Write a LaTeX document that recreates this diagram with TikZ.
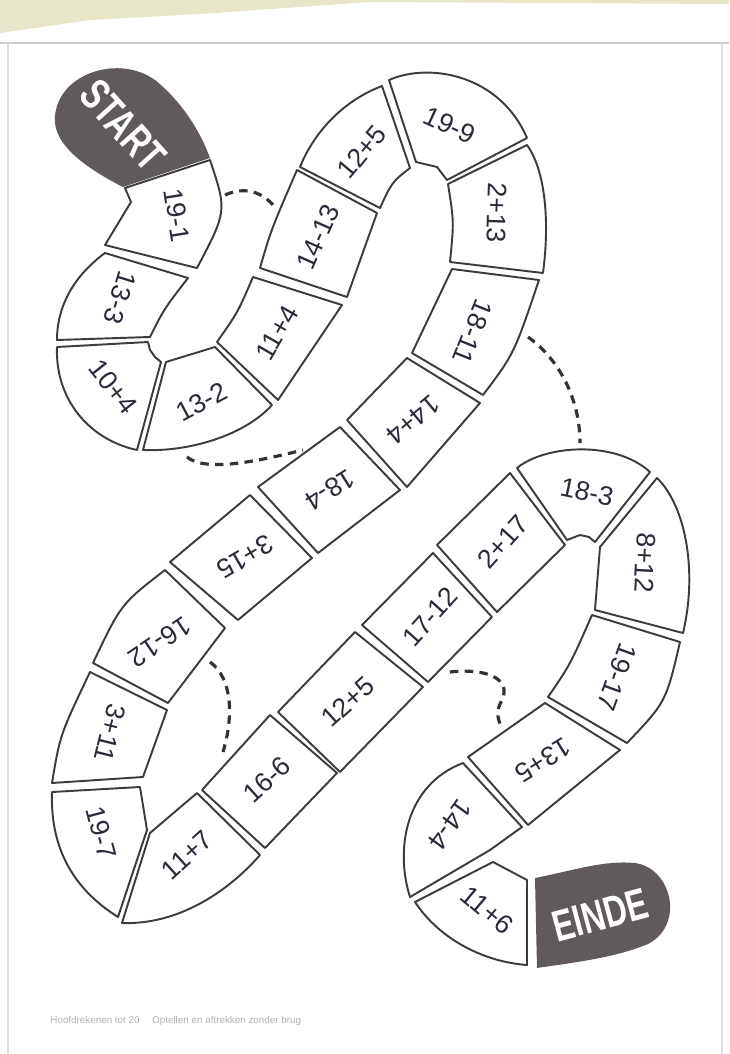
\documentclass[tikz,border=0pt]{standalone}
\usepackage{fontspec}
\setmainfont{Liberation Sans}
\newfontfamily\bordfont[FakeStretch=0.72]{Liberation Sans}
\definecolor{blob}{RGB}{96,90,90}
\definecolor{ink}{RGB}{40,44,58}
\definecolor{rand}{RGB}{60,60,60}
\definecolor{papier}{RGB}{232,230,200}

\begin{document}
\begin{tikzpicture}[x=0.01cm, y=-0.01cm,
  vak/.style={draw=rand, line width=0.55pt, fill=white, line join=round},
  eind/.style={fill=blob},
  som/.style={text=ink, font=\fontsize{7.6}{8}\selectfont, inner sep=0pt},
  woord/.style={text=white, font=\bordfont\bfseries\fontsize{12.5}{13}\selectfont, inner sep=0pt},
  shortcut/.style={draw=black!80, line width=0.9pt, dash pattern=on 2.4pt off 1.8pt}]
  \useasboundingbox (0,0) rectangle (729,1054);
  \fill[white] (0,0) rectangle (729,1054);
  \fill[papier] (0,0) -- (729,0) -- (729,4) -- (370,2) -- (200,14) -- (90,20) -- (0,33) -- cycle;
  \draw[black!20, line width=0.6pt] (0,43) -- (729,43);
  \draw[black!12, line width=0.5pt] (8,43) -- (8,1054);
  \draw[black!12, line width=0.5pt] (722,43) -- (722,1054);

  \path[eind] (123,187) .. controls (80,165) and (48,140) .. (56,110)
    .. controls (64,72) and (120,55) .. (155,80)
    .. controls (180,100) and (200,130) .. (210,158) -- cycle;
  \node[woord, rotate=-48] (start) at (123,125) {START};

  \draw[vak] (125,188) -- (131,202) -- (105,245) -- (197,268) .. controls (227,211) .. (210,160) -- cycle;
  \draw[vak] (105,253) -- (188,278) .. controls (164,309) .. (150,337) -- (57,340) .. controls (57,305) and (75,275) .. (105,253) -- cycle;
  \draw[vak] (57,347) -- (148,342) -- (150,350) -- (155,357) -- (161,362) -- (137,450) .. controls (90,440) and (55,400) .. (57,347) -- cycle;
  \draw[vak] (166,362) -- (215,347) -- (272,405) .. controls (245,435) and (190,452) .. (143,450) -- cycle;
  \draw[vak] (217,342) .. controls (238,312) .. (253,277) -- (342,305) -- (278,400) -- cycle;
  \draw[vak] (260,268) .. controls (271,230) .. (297,170) -- (377,213) -- (347,297) -- cycle;
  \draw[vak] (300,167) .. controls (315,130) and (345,100) .. (382,86) -- (410,168) .. controls (392,182) .. (380,208) -- cycle;
  \draw[vak] (389,80) .. controls (430,62) and (500,75) .. (527,138) -- (447,180) -- (437,167) -- (416,162) -- cycle;
  \draw[vak] (448,184) -- (527,145) .. controls (545,170) and (550,220) .. (543,273) -- (450,262) .. controls (454,222) .. (448,184) -- cycle;
  \draw[vak] (452,269) -- (539,280) .. controls (514,354) .. (483,395) -- (412,353) -- cycle;
  \draw[vak] (347,420) -- (407,358) -- (480,403) -- (407,487) -- cycle;
  \draw[vak] (258,487) -- (340,427) -- (400,490) -- (318,553) -- cycle;
  \draw[vak] (170,562) -- (250,495) -- (312,558) -- (238,620) -- cycle;
  \draw[vak] (93,663) .. controls (121,604) .. (165,570) -- (225,628) -- (168,703) -- cycle;
  \draw[vak] (90,672) -- (167,710) -- (143,777) -- (52,783) .. controls (60,735) .. (90,672) -- cycle;
  \draw[vak] (52,792) -- (140,787) -- (147,830) -- (118,917) .. controls (75,890) and (50,850) .. (52,792) -- cycle;
  \draw[vak] (150,833) -- (197,793) -- (260,855) .. controls (225,895) and (175,925) .. (122,923) -- cycle;
  \draw[vak] (202,790) -- (270,715) -- (337,773) -- (265,848) -- cycle;
  \draw[vak] (278,712) -- (355,632) -- (423,687) -- (340,772) -- cycle;
  \draw[vak] (362,625) -- (433,553) -- (492,617) -- (428,682) -- cycle;
  \draw[vak] (437,545) -- (510,473) -- (565,545) -- (497,612) -- cycle;
  \draw[vak] (517,468) .. controls (545,445) and (615,440) .. (650,472) -- (595,542) -- (589,537) -- (580,535) -- (567,540) -- cycle;
  \draw[vak] (600,547) -- (657,478) .. controls (685,505) and (698,570) .. (683,633) -- (595,610) -- cycle;
  \draw[vak] (592,615) -- (680,642) .. controls (666,702) .. (627,743) -- (548,697) .. controls (570,665) .. (592,615) -- cycle;
  \draw[vak] (468,757) -- (545,703) -- (620,750) -- (528,825) -- cycle;
  \draw[vak] (463,763) -- (522,827) -- (490,850) -- (410,897) .. controls (395,850) and (405,785) .. (463,763) -- cycle;
  \draw[vak] (415,902) -- (493,862) -- (527,880) -- (527,965) .. controls (485,962) and (440,940) .. (415,902) -- cycle;

  \path[eind] (535,878) .. controls (575,870) and (605,860) .. (635,863)
    .. controls (672,868) and (685,925) .. (648,944)
    .. controls (615,958) and (570,963) .. (537,968) -- cycle;
  \node[woord, rotate=15] (einde) at (600,915) {EINDE};

  \node[som, rotate=-81] (vak1) at (177,215) {19-1};
  \node[som, rotate=-107] (vak2) at (120,298) {13-3};
  \node[som, rotate=-52] (vak3) at (113,387) {10+4};
  \node[som, rotate=28] (vak4) at (202,402) {13-2};
  \node[som, rotate=60] (vak5) at (277,333) {11+4};
  \node[som, rotate=66] (vak6) at (318,237) {14-13};
  \node[som, rotate=50] (vak7) at (362,152) {12+5};
  \node[som, rotate=-25] (vak8) at (450,125) {19-9};
  \node[som, rotate=-92] (vak9) at (497,213) {2+13};
  \node[som, rotate=-112] (vak10) at (473,332) {18-11};
  \node[som, rotate=-140] (vak11) at (413,420) {14+4};
  \node[som, rotate=-148] (vak12) at (330,490) {18-4};
  \node[som, rotate=-150] (vak13) at (245,557) {3+15};
  \node[som, rotate=-146] (vak14) at (160,642) {16-12};
  \node[som, rotate=-104] (vak15) at (110,733) {3+11};
  \node[som, rotate=-75] (vak16) at (101,833) {19-7};
  \node[som, rotate=42] (vak17) at (187,855) {11+7};
  \node[som, rotate=42] (vak18) at (267,780) {16-6};
  \node[som, rotate=42] (vak19) at (348,702) {12+5};
  \node[som, rotate=48] (vak20) at (430,617) {17-12};
  \node[som, rotate=48] (vak21) at (503,542) {2+17};
  \node[som, rotate=-12] (vak22) at (587,492) {18-3};
  \node[som, rotate=-93] (vak23) at (645,563) {8+12};
  \node[som, rotate=-110] (vak24) at (617,677) {19-17};
  \node[som, rotate=-148] (vak25) at (543,760) {13+5};
  \node[som, rotate=-126] (vak26) at (450,825) {14-4};
  \node[som, rotate=-40] (vak27) at (487,910) {11+6};

  \coordinate (sprong1a) at (225,195);
  \coordinate (sprong1b) at (274,206);
  \coordinate (sprong2a) at (187,457);
  \coordinate (sprong2b) at (303,450);
  \coordinate (sprong3a) at (528,337);
  \coordinate (sprong3b) at (580,443);
  \coordinate (sprong4a) at (210,662);
  \coordinate (sprong4b) at (223,752);
  \coordinate (sprong5a) at (450,672);
  \coordinate (sprong5b) at (502,728);
  \draw[shortcut] (sprong1a) .. controls (245,186) and (262,192) .. (sprong1b);
  \draw[shortcut] (sprong2a) .. controls (205,472) and (255,462) .. (sprong2b);
  \draw[shortcut] (sprong3a) .. controls (560,360) and (580,400) .. (sprong3b);
  \draw[shortcut] (sprong4a) .. controls (232,678) and (234,715) .. (sprong4b);
  \draw[shortcut] (sprong5a) .. controls (485,668) and (512,678) .. (502,700)
    .. controls (495,712) and (498,720) .. (sprong5b);

  \node[anchor=west, text=black!30, font=\fontsize{2.8}{3}\selectfont] (voet) at (38,1021)
    {Hoofdrekenen tot 20 \quad Optellen en aftrekken zonder brug};
\end{tikzpicture}
\end{document}
